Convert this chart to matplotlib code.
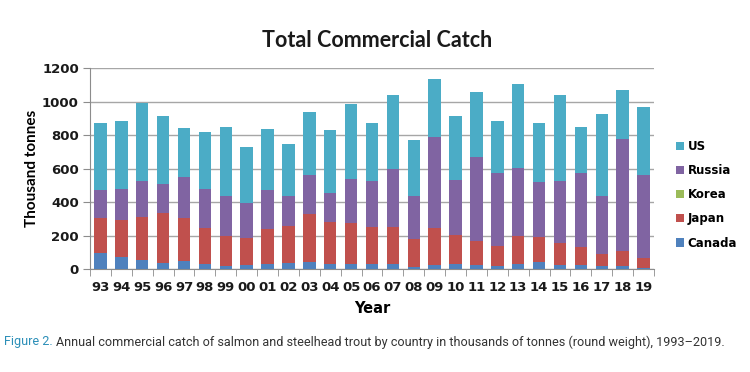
import matplotlib
matplotlib.use("Agg")
import matplotlib.pyplot as plt
import numpy as np

years = ["93","94","95","96","97","98","99","00","01","02","03","04","05","06",
         "07","08","09","10","11","12","13","14","15","16","17","18","19"]
canada = [95, 70, 56, 38, 50, 30, 20, 22, 30, 37, 44, 32, 32, 30,
          30, 12, 22, 32, 26, 16, 32, 40, 22, 26, 16, 18, 8]
japan = [209, 222, 252, 294, 256, 215, 179, 165, 211, 220, 284, 251, 243, 221,
         221, 169, 221, 173, 141, 124, 167, 151, 135, 107, 72, 89, 60]
korea = [0, 3, 0, 0, 0, 0, 0, 0, 0, 0, 0, 0, 0, 0,
         0, 0, 0, 0, 0, 0, 0, 0, 0, 0, 0, 0, 0]
russia = [169, 184, 218, 176, 244, 234, 240, 208, 232, 182, 232, 172, 261, 275,
          347, 256, 548, 327, 505, 437, 403, 329, 367, 441, 349, 672, 492]
us = [402, 408, 468, 408, 295, 338, 412, 332, 366, 306, 380, 378, 452, 345,
      442, 332, 348, 384, 386, 309, 507, 351, 516, 277, 489, 291, 408]

series = [("Canada", canada, "#4F81BD"), ("Japan", japan, "#C0504D"),
          ("Korea", korea, "#9BBB59"), ("Russia", russia, "#8064A2"),
          ("US", us, "#4BACC6")]

fig = plt.figure(figsize=(7.5, 3.72), dpi=100)
ax = fig.add_axes([0.12, 0.277, 0.752, 0.539])

x = np.arange(len(years))
bottom = np.zeros(len(years))
handles = []
for name, vals, col in series:
    b = ax.bar(x, vals, bottom=bottom, width=0.6, color=col, label=name,
               zorder=3, linewidth=0)
    handles.append(b)
    bottom += np.array(vals)

ax.set_xlim(-0.5, len(years) - 0.5)
ax.set_ylim(0, 1200)
ax.set_yticks(np.arange(0, 1201, 200))
ax.grid(axis="y", color="#a6a6a6", linewidth=1.0, zorder=0)
for s in ["top", "right"]:
    ax.spines[s].set_visible(False)
for s in ["left", "bottom"]:
    ax.spines[s].set_color("#8c8c8c")

ax.set_xticks(x)
ax.set_xticklabels(years, fontsize=9.5, fontweight="bold", color="#1a1a1a")
ax.set_xticks(np.arange(-0.5, len(years), 1.0), minor=True)
ax.tick_params(axis="x", which="major", length=0, pad=9)
ax.tick_params(axis="x", which="minor", length=5, color="#8c8c8c")
ax.tick_params(axis="y", length=5, color="#8c8c8c", labelsize=9.5, pad=3)
for lab in ax.get_yticklabels():
    lab.set_fontweight("bold")
    lab.set_color("#1a1a1a")

ax.set_ylabel("Thousand tonnes", fontsize=11, fontweight="bold",
              family="Lato", labelpad=2)
ax.set_xlabel("Year", fontsize=10.5, fontweight="bold", labelpad=5)

fig.text(0.503, 0.892, "Total Commercial Catch", ha="center", va="center",
         fontsize=15.5, fontweight="bold", family="Lato", color="#1a1a1a")

leg = ax.legend(handles[::-1], [s[0] for s in series][::-1],
                loc="center left", bbox_to_anchor=(1.02, 0.37), frameon=False,
                prop={"weight": "bold", "size": 8.5}, handlelength=0.7,
                handleheight=0.7, handletextpad=0.3, labelspacing=0.95)

cap_y = 1 - 342 / 372
cap_font = "Roboto"
size = 11.0
t1 = fig.text(0.006, cap_y, "Figure 2.", ha="left", va="center",
              fontsize=size, color="#2c8fb8", family=cap_font)
t2 = fig.text(0.0, cap_y,
              "Annual commercial catch of salmon and steelhead trout by country in thousands of tonnes (round weight), 1993\u20132019.",
              ha="left", va="center", fontsize=size, color="#333333",
              family=cap_font)
fig.canvas.draw()
r = fig.canvas.get_renderer()
w_total = t1.get_window_extent(r).width + 4 + t2.get_window_extent(r).width
scale = 713.0 / w_total
size *= scale
t1.set_fontsize(size)
t2.set_fontsize(size)
fig.canvas.draw()
bb = t1.get_window_extent(r)
t2.set_x((bb.x1 + 3) / fig.bbox.width)

fig.savefig("out.png", dpi=100)
